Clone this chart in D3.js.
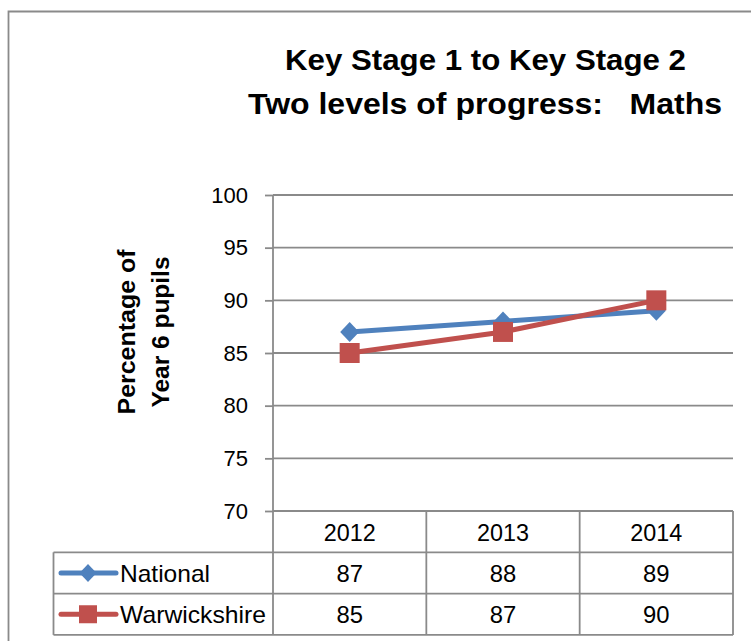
<!DOCTYPE html>
<html>
<head>
<meta charset="utf-8">
<script src="https://cdn.jsdelivr.net/npm/d3@7"></script>
<style>
  body { margin: 0; background: #fff; }
  svg { display: block; font-family: "Liberation Sans", Arial, sans-serif; }
</style>
</head>
<body>
<div id="chart"></div>
<script>
// data
var years = ["2012", "2013", "2014"];
var national = [87, 88, 89];
var warwickshire = [85, 87, 90];
var seriesNames = ["National", "Warwickshire"];
var seriesColors = ["#4F81BD", "#C0504D"];
var yTicks = [70, 75, 80, 85, 90, 95, 100];

var width = 751, height = 641;
var plot = {left: 273, right: 733, top: 195, bottom: 511};
var rowH = 41.3;

var svg = d3.select("#chart").append("svg")
    .attr("width", width)
    .attr("height", height);

// outer chart border (only top and left show in the frame)
svg.append("path")
    .attr("d", "M8.5,660 V11.5 H760")
    .attr("fill", "none")
    .attr("stroke", "#8a8a8a")
    .attr("stroke-width", 1.8);

// title
var title = svg.append("g").style("font-weight", "bold").attr("fill", "#000");
title.append("text")
    .attr("x", 485.5).attr("y", 70)
    .attr("text-anchor", "middle")
    .style("font-size", "29px")
    .attr("textLength", 401).attr("lengthAdjust", "spacingAndGlyphs")
    .text("Key Stage 1 to Key Stage 2");
title.append("text")
    .attr("x", 485).attr("y", 114)
    .attr("text-anchor", "middle")
    .style("font-size", "29px")
    .attr("textLength", 474).attr("lengthAdjust", "spacingAndGlyphs")
    .style("white-space", "pre")
    .text("Two levels of progress:   Maths");

// scales
var x = d3.scaleBand().domain(years).range([plot.left, plot.right]);
var y = d3.scaleLinear().domain([70, 100]).range([plot.bottom, plot.top]);

// gridlines
svg.append("g").selectAll("line")
    .data(yTicks)
    .enter().append("line")
    .attr("x1", plot.left).attr("x2", plot.right)
    .attr("y1", function(d) { return y(d); })
    .attr("y2", function(d) { return y(d); })
    .attr("stroke", "#8a8a8a")
    .attr("stroke-width", 1.8);

// y axis
var yAxis = svg.append("g")
    .attr("transform", "translate(" + plot.left + ",0)")
    .call(d3.axisLeft(y).tickValues(yTicks).tickSize(8).tickPadding(17));
yAxis.selectAll("line").attr("stroke", "#8a8a8a").attr("stroke-width", 1.8);
yAxis.select(".domain").remove();
yAxis.selectAll("text")
    .style("font-size", "22px")
    .style("font-family", "'Liberation Sans', Arial, sans-serif")
    .attr("fill", "#000");

svg.append("line")
    .attr("x1", plot.left).attr("x2", plot.left)
    .attr("y1", plot.top).attr("y2", plot.bottom + rowH * 3)
    .attr("stroke", "#8a8a8a").attr("stroke-width", 1.8);

// y axis title
var yt = svg.append("g")
    .attr("transform", "translate(0,332) rotate(-90)")
    .style("font-weight", "bold")
    .style("font-size", "23px");
yt.append("text")
    .attr("x", 0).attr("y", 135)
    .attr("text-anchor", "middle")
    .attr("textLength", 165).attr("lengthAdjust", "spacingAndGlyphs")
    .text("Percentage of");
yt.append("text")
    .attr("x", 0).attr("y", 169)
    .attr("text-anchor", "middle")
    .attr("textLength", 151).attr("lengthAdjust", "spacingAndGlyphs")
    .text("Year 6 pupils");

// lines + markers
var line = d3.line()
    .x(function(d, i) { return x(years[i]) + x.bandwidth() / 2; })
    .y(function(d) { return y(d); });

var allSeries = [national, warwickshire];
allSeries.forEach(function(vals, s) {
    svg.append("path")
        .datum(vals)
        .attr("d", line)
        .attr("fill", "none")
        .attr("stroke", seriesColors[s])
        .attr("stroke-width", 5)
        .attr("stroke-linejoin", "round");
});

svg.append("g").selectAll("path")
    .data(national)
    .enter().append("path")
    .attr("transform", function(d, i) {
        return "translate(" + (x(years[i]) + x.bandwidth() / 2) + "," + y(d) + ")";
    })
    .attr("d", "M0,-10 L9.5,0 L0,10 L-9.5,0 Z")
    .attr("fill", seriesColors[0]);

svg.append("g").selectAll("rect")
    .data(warwickshire)
    .enter().append("rect")
    .attr("x", function(d, i) { return x(years[i]) + x.bandwidth() / 2 - 10; })
    .attr("y", function(d) { return y(d) - 10; })
    .attr("width", 20).attr("height", 20)
    .attr("fill", seriesColors[1]);

// data table
var tableLeft = 53.5;
var tbl = svg.append("g").attr("stroke", "#8a8a8a").attr("stroke-width", 1.8);
[1, 2, 3].forEach(function(r) {
    tbl.append("line")
        .attr("x1", tableLeft).attr("x2", plot.right)
        .attr("y1", plot.bottom + rowH * r).attr("y2", plot.bottom + rowH * r);
});
tbl.append("line")
    .attr("x1", tableLeft).attr("x2", tableLeft)
    .attr("y1", plot.bottom + rowH).attr("y2", plot.bottom + rowH * 3);
years.forEach(function(yr) {
    tbl.append("line")
        .attr("x1", x(yr) + x.bandwidth()).attr("x2", x(yr) + x.bandwidth())
        .attr("y1", plot.bottom).attr("y2", plot.bottom + rowH * 3);
});

// header row
svg.append("g").selectAll("text")
    .data(years)
    .enter().append("text")
    .attr("x", function(d) { return x(d) + x.bandwidth() / 2; })
    .attr("y", plot.bottom + rowH / 2 + 9)
    .attr("text-anchor", "middle")
    .style("font-size", "24px")
    .attr("textLength", 52).attr("lengthAdjust", "spacingAndGlyphs")
    .text(function(d) { return d; });

// value rows
allSeries.forEach(function(vals, s) {
    var cy = plot.bottom + rowH * (s + 1) + rowH / 2;
    svg.append("g").selectAll("text")
        .data(vals)
        .enter().append("text")
        .attr("x", function(d, i) { return x(years[i]) + x.bandwidth() / 2; })
        .attr("y", cy + 9)
        .attr("text-anchor", "middle")
        .style("font-size", "24px")
        .attr("textLength", 26.5).attr("lengthAdjust", "spacingAndGlyphs")
        .text(function(d) { return d; });

    // legend key
    svg.append("line")
        .attr("x1", 61).attr("x2", 116)
        .attr("y1", cy).attr("y2", cy)
        .attr("stroke", seriesColors[s])
        .attr("stroke-width", 5)
        .attr("stroke-linecap", "round");
    if (s === 0) {
        svg.append("path")
            .attr("transform", "translate(88," + cy + ")")
            .attr("d", "M0,-9 L8.5,0 L0,9 L-8.5,0 Z")
            .attr("fill", seriesColors[s]);
    } else {
        svg.append("rect")
            .attr("x", 79).attr("y", cy - 9)
            .attr("width", 18).attr("height", 18)
            .attr("fill", seriesColors[s]);
    }
    svg.append("text")
        .attr("x", 120).attr("y", cy + 9)
        .style("font-size", "24px")
        .attr("textLength", s === 0 ? 90 : 146)
        .attr("lengthAdjust", "spacingAndGlyphs")
        .text(seriesNames[s]);
});
</script>
</body>
</html>
